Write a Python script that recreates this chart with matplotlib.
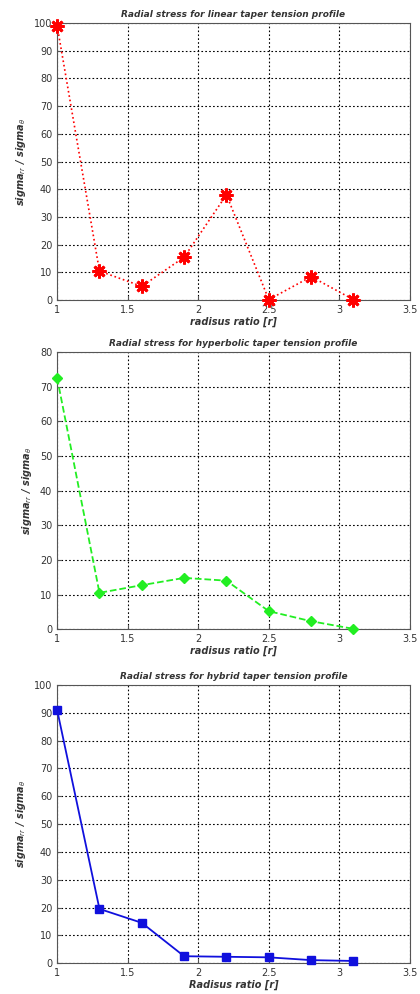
import matplotlib.pyplot as plt
import numpy as np

radius = [1.0, 1.3, 1.6, 1.9, 2.2, 2.5, 2.8, 3.1]
linear = [99, 10.5, 5, 15.5, 38, 0.2, 8.5, 0.2]
hyperbolic = [72.5, 10.5, 12.7, 14.8, 14, 5.2, 2.3, 0.1]
hybrid = [91, 19.5, 14.5, 2.5, 2.3, 2.1, 1.1, 0.8]

titles = ['Radial stress for linear taper tension profile',
          'Radial stress for hyperbolic taper tension profile',
          'Radial stress for hybrid taper tension profile']
xlabels = ['radisus ratio [r]', 'radisus ratio [r]', 'Radisus ratio [r]']
ylabel = r'sigma$_{rr}$ / sigma$_{\theta}$'


def panel(fig, rect, y, ymax, style, title, xlabel):
	ax = fig.add_axes(rect)
	ax.plot(radius, y, clip_on=False, zorder=5, **style)
	ax.set_xlim(1, 3.5)
	ax.set_ylim(0, ymax)
	ax.set_xticks([1, 1.5, 2, 2.5, 3, 3.5])
	ax.set_xticklabels(['1', '1.5', '2', '2.5', '3', '3.5'])
	ax.set_yticks(np.arange(0, ymax + 1, 10))
	ax.tick_params(labelsize=7, direction='in', length=3, color='#555555', labelcolor='#333333')
	ax.grid(True, color='black', linestyle=(0, (1.5, 2)), linewidth=0.8)
	for s in ax.spines.values():
		s.set_color('#555555')
	ax.set_title(title, fontsize=6.5, fontweight='bold', style='italic', color='#333333', pad=4)
	ax.set_xlabel(xlabel, fontsize=7, fontweight='bold', style='italic', color='#333333', labelpad=1)
	ax.set_ylabel(ylabel, fontsize=7, fontweight='bold', style='italic', color='#333333', labelpad=4)
	return ax


fig = plt.figure(figsize=(4.2, 9.94), dpi=100)
panel(fig, [0.136, 0.698, 0.840, 0.279], linear, 100,
      dict(color='red', linestyle=':', linewidth=1.2, marker=(8, 2, 0), markersize=10,
           markeredgewidth=2), titles[0], xlabels[0])
panel(fig, [0.136, 0.367, 0.840, 0.279], hyperbolic, 80,
      dict(color='#22ee22', linestyle='--', linewidth=1.3, marker='D', markersize=5), titles[1], xlabels[1])
panel(fig, [0.136, 0.031, 0.840, 0.280], hybrid, 100,
      dict(color='#1010dd', linestyle='-', linewidth=1.3, marker='s', markersize=6), titles[2], xlabels[2])
plt.savefig('out.png')
